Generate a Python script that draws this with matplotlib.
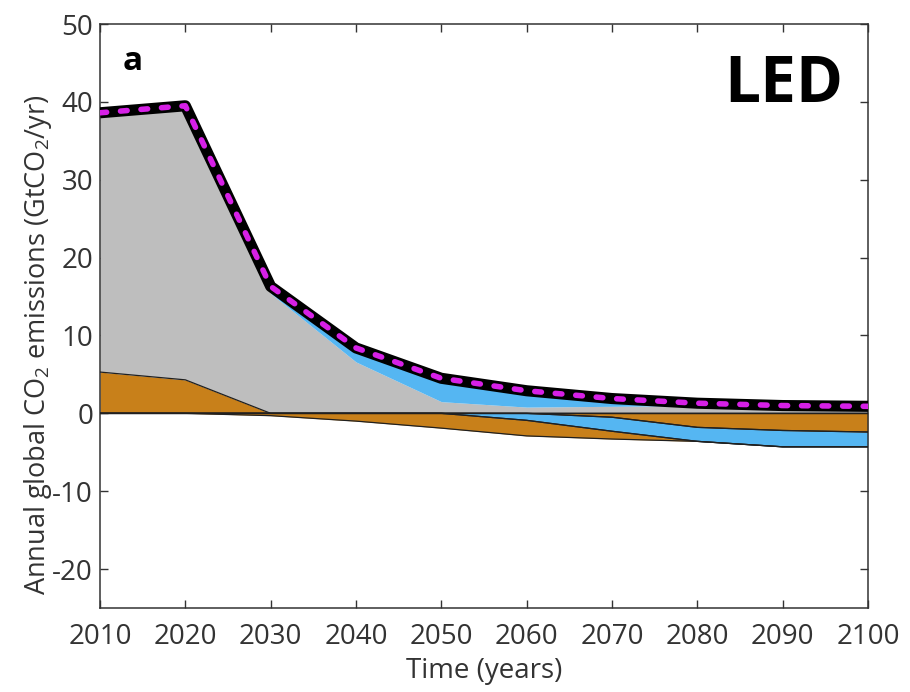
import matplotlib
matplotlib.use('Agg')
import matplotlib.pyplot as plt
import numpy as np

plt.rcParams['font.family'] = ['Open Sans', 'DejaVu Sans']
plt.rcParams['mathtext.fontset'] = 'custom'
plt.rcParams['mathtext.rm'] = 'Open Sans'
plt.rcParams['mathtext.it'] = 'Open Sans:italic'
plt.rcParams['mathtext.bf'] = 'Open Sans:bold'
plt.rcParams['axes.unicode_minus'] = False

years = np.arange(2010, 2101, 10)

# positive contributions (GtCO2/yr), stacked up from zero
land_pos = [5.3, 4.3, 0, 0, 0, 0, 0, 0, 0, 0]
fossil = [33.3, 35.2, 15.4, 6.6, 1.5, 0.8, 0.9, 1.0, 1.0, 0.9]
blue_pos = [0, 0, 0.9, 1.8, 3.0, 2.1, 1.0, 0.3, 0, 0]

# negative contributions, stacked down from zero
brown_late = [0, 0, 0, 0, 0, 0, -0.5, -1.8, -2.2, -2.4]
blue_neg = [0, 0, 0, 0, 0, -0.9, -1.8, -1.8, -2.1, -1.9]
land_neg = [0, 0, -0.3, -1.0, -1.9, -2.0, -1.0, 0, 0, 0]

brown = '#C8801A'
grey = '#BEBEBE'
sky = '#55B6F2'
edge = '#202020'

fig = plt.figure(figsize=(9.1, 6.92), dpi=100)
ax = fig.add_axes([0.1099, 0.1214, 0.8439, 0.8439])

pos_layers = [(land_pos, brown, True), (fossil, grey, False), (blue_pos, sky, False)]
neg_layers = [(brown_late, brown, True), (blue_neg, sky, True), (land_neg, brown, True)]

for layers in (pos_layers, neg_layers):
    base = np.zeros(len(years))
    for vals, col, outlined in layers:
        top = base + np.array(vals)
        ax.fill_between(years, base, top, color=col, lw=0, zorder=2)
        if outlined:
            ax.plot(years, top, color=edge, lw=0.9, zorder=3)
            ax.plot(years, base, color=edge, lw=0.9, zorder=3)
        base = top
    if layers is pos_layers:
        total = base

# total line: thick black with magenta dashes
ax.plot(years, total, color='black', lw=8, solid_joinstyle='round',
        solid_capstyle='butt', zorder=4)
ax.plot(years, total, color='#D620E6', lw=4, dashes=(1.2, 2.5),
        dash_capstyle='round', zorder=5)

ax.set_xlim(2010, 2100)
ax.set_ylim(-25, 50)
ax.set_xticks(np.arange(2010, 2101, 10))
ax.set_yticks(np.arange(-20, 51, 10))
ax.tick_params(direction='in', length=6, width=1, top=True, right=True,
               labelsize=20, colors='#333333')
ax.tick_params(axis='x', pad=11)
ax.tick_params(axis='y', pad=5)
for s in ax.spines.values():
    s.set_linewidth(1.1)
    s.set_color('#333333')

ax.set_xlabel('Time (years)', fontsize=20, color='#333333', labelpad=4)
ax.set_ylabel('Annual global CO$_2$ emissions (GtCO$_2$/yr)', fontsize=19.5,
              color='#333333')
ax.yaxis.set_label_coords(-0.060, 0.45)

ax.text(0.029, 0.935, 'a', transform=ax.transAxes, fontsize=24,
        fontweight='bold', ha='left', va='center')
ax.text(0.968, 0.895, 'LED', transform=ax.transAxes, fontsize=46,
        fontweight='bold', ha='right', va='center')

fig.savefig('out.png', dpi=100)
